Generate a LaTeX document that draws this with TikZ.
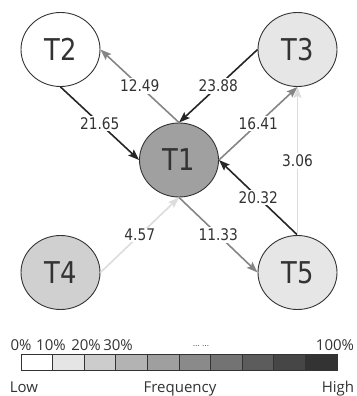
\documentclass[tikz,border=0pt]{standalone}
\usepackage{fontspec}
\setmainfont{DejaVu Sans}[FakeStretch=0.86]
\newfontfamily\legfont{Open Sans}
\usetikzlibrary{shapes.geometric,arrows.meta}
\definecolor{edk}{HTML}{262626}
\definecolor{emd}{HTML}{858585}
\definecolor{elt}{HTML}{DCDCDC}
\definecolor{bord}{HTML}{333333}
\tikzset{
  tnode/.style={ellipse, draw=bord, line width=0.9pt, minimum width=79pt, minimum height=74pt, inner sep=0pt, font=\fontsize{30}{30}\selectfont, text=bord},
  conn/.style={line width=1.6pt, -{Stealth[length=11pt,width=8pt,inset=2pt]}},
  elab/.style={fill=white, inner sep=1.5pt, font=\fontsize{16}{16}\selectfont, text=bord},
  barlab/.style={anchor=base, inner sep=0pt, font=\legfont\fontsize{15}{15}\selectfont, text=bord},
  cell/.style={draw=bord, line width=0.9pt}
}
\begin{document}
\begin{tikzpicture}[x=1pt,y=-1pt]
\useasboundingbox (0,0) rectangle (356,396);
\node[tnode, fill=white] (T2) at (60.5,49.5) {T2};
\node[tnode, fill={rgb,255:red,230;green,230;blue,230}] (T3) at (297.5,49.5) {T3};
\node[tnode, fill={rgb,255:red,160;green,160;blue,160}] (T1) at (179,160) {T1};
\node[tnode, fill={rgb,255:red,208;green,208;blue,208}] (T4) at (60.5,272.5) {T4};
\node[tnode, fill={rgb,255:red,230;green,230;blue,230}] (T5) at (297.5,272.5) {T5};

\draw[conn, edk] (T2.south) -- node[elab] {21.65} (T1.west);
\draw[conn, emd] (T1.north) -- node[elab] {12.49} (T2.east);
\draw[conn, edk] (T3.west) -- node[elab] {23.88} (T1.north);
\draw[conn, emd] (T1.east) -- node[elab] {16.41} (T3.south);
\draw[conn, edk] (T5.north) -- node[elab] {20.32} (T1.east);
\draw[conn, elt] (T5.north) -- node[elab] {3.06} (T3.south);
\draw[conn, elt] (T4.east) -- node[elab] {4.57} (T1.south);
\draw[conn, emd] (T1.south) -- node[elab] {11.33} (T5.west);

% colour bar
\foreach \i/\g in {0/255,1/229,2/204,3/179,4/159,5/138,6/115,7/92,8/70,9/51} {
  \path[cell, fill={rgb,255:red,\g;green,\g;blue,\g}] (21+\i*31.6,354) rectangle (21+\i*31.6+31.6,370);
}
\node[barlab] (p0) at (21,350) {0\%};
\node[barlab] (p10) at (51,350) {10\%};
\node[barlab] (p20) at (86,350) {20\%};
\node[barlab] (p30) at (118,350) {30\%};
\node[anchor=base, inner sep=0pt, font=\legfont\fontsize{9}{9}\selectfont, text={rgb,255:red,90;green,90;blue,90}] (dots) at (201,346) {… …};
\node[barlab] (p100) at (335,350) {100\%};
\node[barlab] (low) at (24,392) {Low};
\node[barlab] (freq) at (180,392) {Frequency};
\node[barlab] (high) at (338,392) {High};
\end{tikzpicture}
\end{document}
